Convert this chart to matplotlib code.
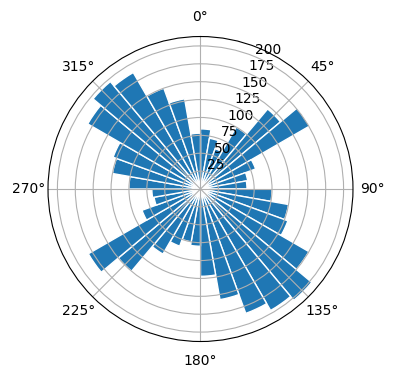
import numpy as np
import matplotlib
matplotlib.use("Agg")
from matplotlib import pyplot as plt

# 36 sectors of 10 degrees, clockwise from north
sector_start_deg = list(range(0, 360, 10))
counts = [84, 72, 60, 100, 146, 176, 82, 67, 65,
          100, 125, 130, 175, 203, 196, 185, 157, 122,
          80, 75, 85, 105, 150, 181, 87, 66, 68,
          100, 125, 130, 182, 196, 188, 150, 128, 78]

theta = np.deg2rad(sector_start_deg)
width = np.deg2rad(10)

fig = plt.figure(figsize=(3.96, 3.8), dpi=100)
ax = fig.add_axes([0.1212, 0.1013, 0.7702, 0.8026], projection="polar")
ax.set_theta_zero_location("N")
ax.set_theta_direction(-1)

ax.bar(theta, counts, width=width, align="edge", color="C0", edgecolor="white", linewidth=1)
ax.set_rticks([25, 50, 75, 100, 125, 150, 175, 200])

fig.savefig("out.png", dpi=100)
